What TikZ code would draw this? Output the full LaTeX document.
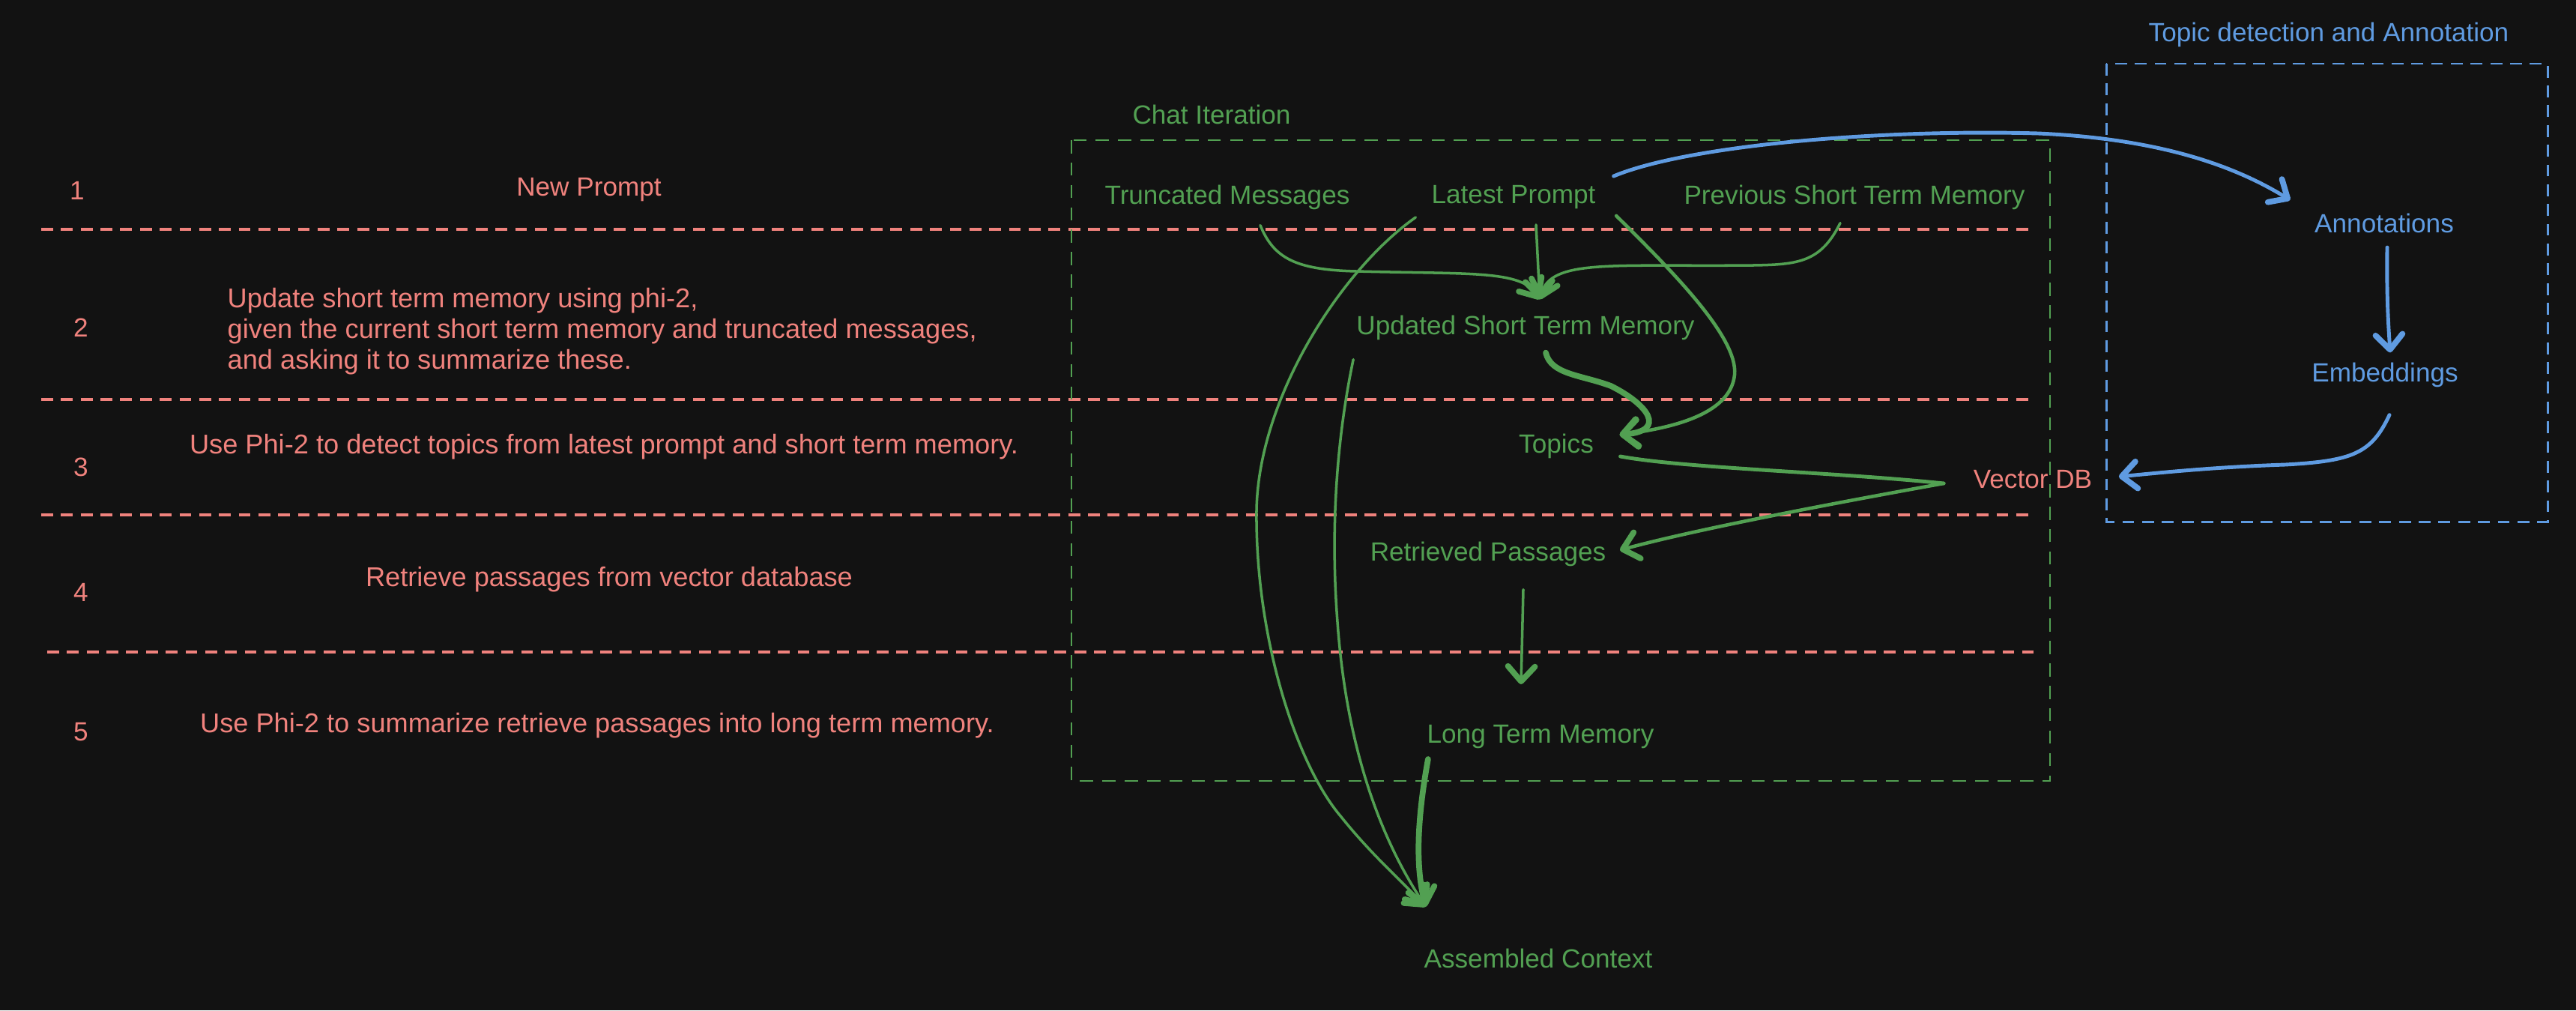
\documentclass[tikz,border=0pt]{standalone}
\usepackage{fontspec}
\setmainfont{Liberation Sans}
\usetikzlibrary{arrows.meta}
\definecolor{bgdark}{RGB}{18,18,18}
\definecolor{flowgreen}{RGB}{82,160,82}
\definecolor{steppink}{RGB}{240,130,125}
\definecolor{annblue}{RGB}{95,155,225}

\begin{document}
\begin{tikzpicture}[
    lbl/.style={inner sep=2pt, font=\fontsize{10}{11.7}\selectfont},
    steplbl/.style={lbl, text=steppink},
    steptext/.style={steplbl, font=\fontsize{10.3}{11.7}\selectfont},
    flowlbl/.style={lbl, text=flowgreen},
    annlbl/.style={lbl, text=annblue},
    sepline/.style={steppink, line width=1.1pt, dash pattern=on 4.5pt off 3pt},
    barb/.style={-{Straight Barb[length=2mm, width=3.6mm, round, line width=2.2pt]}},
    flow/.style={flowgreen, line width=1pt, line cap=round, barb},
    ann/.style={annblue, line width=1.4pt, line cap=round, barb}
  ]
    % Achtergrond
    \path[use as bounding box, fill=bgdark] (0,0) rectangle (34.38,-13.48);

    % Stappen links
    \node[steplbl] (n1) at (1.03,-2.54) {1};
    \node[steplbl] (n2) at (1.08,-4.37) {2};
    \node[steplbl] (n3) at (1.08,-6.23) {3};
    \node[steplbl] (n4) at (1.08,-7.90) {4};
    \node[steplbl] (n5) at (1.08,-9.77) {5};
    \node[steplbl] (s1) at (7.86,-2.53) {New Prompt};
    \node[steptext, anchor=west, align=left] (s2) at (2.96,-4.42)
        {Update short term memory using phi-2,\\given the current short term memory and truncated messages,\\and asking it to summarize these.};
    \node[steptext] (s3) at (8.06,-5.96) {Use Phi-2 to detect topics from latest prompt and short term memory.};
    \node[steptext] (s4) at (8.13,-7.73) {Retrieve passages from vector database};
    \node[steptext] (s5) at (7.97,-9.68) {Use Phi-2 to summarize retrieve passages into long term memory.};

    % Scheidingslijnen
    \draw[sepline] (0.55,-3.06) -- (27.14,-3.06);
    \draw[sepline] (0.55,-5.33) -- (27.14,-5.33);
    \draw[sepline] (0.55,-6.87) -- (27.14,-6.87);
    \draw[sepline] (0.63,-8.70) -- (27.14,-8.70);

    % Kaders
    \draw[flowgreen, line width=0.7pt, dash pattern=on 5pt off 3.5pt] (14.30,-1.87) rectangle (27.36,-10.42);
    \node[flowlbl] (chat) at (16.17,-1.53) {Chat Iteration};
    \draw[annblue, line width=0.85pt, dash pattern=on 4.5pt off 3pt] (28.11,-0.85) rectangle (34.00,-6.96);
    \node[annlbl] (topdet) at (31.08,-0.46) {Topic detection and Annotation};

    % Chat iteratie
    \node[flowlbl] (trunc) at (16.38,-2.63) {Truncated Messages};
    \node[flowlbl] (latest) at (20.20,-2.63) {Latest Prompt};
    \node[flowlbl] (prevstm) at (24.75,-2.63) {Previous Short Term Memory};
    \node[flowlbl] (updstm) at (20.36,-4.37) {Updated Short Term Memory};
    \node[flowlbl] (topics) at (20.77,-5.95) {Topics};
    \node[steplbl] (vecdb) at (27.13,-6.40) {Vector DB};
    \node[flowlbl] (retr) at (19.86,-7.39) {Retrieved Passages};
    \node[flowlbl] (ltm) at (20.56,-9.83) {Long Term Memory};
    \node[flowlbl] (asm) at (20.53,-12.79) {Assembled Context};

    % Annotatie
    \node[annlbl] (annot) at (31.82,-2.98) {Annotations};
    \node[annlbl] (embed) at (31.83,-5.00) {Embeddings};

    % Naar het bijgewerkte kortetermijngeheugen
    \draw[flow] ([shift={(0.44,-0.135)}]trunc.south) .. controls (17.0,-3.45) and (17.3,-3.6) .. (18.1,-3.62)
        .. controls (19.6,-3.66) and (20.3,-3.6) .. ([shift={(0.19,0.135)}]updstm.north);
    \draw[flow] ([shift={(0.30,-0.135)}]latest.south) -- ([shift={(0.19,0.135)}]updstm.north);
    \draw[flow] ([shift={(-0.19,-0.105)}]prevstm.south) .. controls (24.3,-3.5) and (24.0,-3.53) .. (23.4,-3.54)
        .. controls (21.5,-3.56) and (20.7,-3.45) .. ([shift={(0.19,0.135)}]updstm.north);

    % Naar de context
    \draw[flow] ([shift={(-0.135,-0.035)}]latest.south west) .. controls (17.9,-3.6) and (16.8,-5.3) .. (16.77,-6.8)
        .. controls (16.75,-8.5) and (17.3,-10.2) .. (17.9,-10.9)
        .. controls (18.3,-11.4) and (18.7,-11.75) .. ([shift={(0.10,0.485)}]asm.north west);
    \draw[flow] ([shift={(0.035,-0.185)}]updstm.south west) .. controls (17.85,-5.8) and (17.75,-7.0) .. (17.85,-8.3)
        .. controls (17.95,-9.7) and (18.3,-11.0) .. ([shift={(0.10,0.485)}]asm.north west);
    \draw[flow, line width=2.2pt] ([shift={(0.09,-0.065)}]ltm.south west) .. controls (18.9,-11.0) and (18.9,-11.6)
        .. ([shift={(0.10,0.485)}]asm.north west);

    % Onderwerpen
    \draw[flow, line width=1.3pt] ([shift={(0.2,-0.015)}]latest.south east) .. controls (22.3,-3.6) and (23.2,-4.5) .. (23.15,-5.0)
        .. controls (23.1,-5.5) and (22.4,-5.7) .. ([shift={(0.27,0.15)}]topics.east);
    \draw[flow, line width=2.2pt] ([shift={(0.27,-0.095)}]updstm.south) .. controls (20.7,-5.0) and (21.1,-5.0) .. (21.5,-5.15)
        .. controls (22.0,-5.4) and (22.25,-5.75) .. ([shift={(0.27,0.15)}]topics.east);

    % Vector DB
    \draw[flowgreen, line width=1.4pt, line cap=round] ([shift={(0.28,-0.14)}]topics.east) .. controls (22.5,-6.25) and (24.5,-6.3)
        .. ([shift={(-0.32,-0.05)}]vecdb.west);
    \draw[flow, line width=1.3pt] ([shift={(-0.32,-0.05)}]vecdb.west) .. controls (24.0,-6.8) and (22.5,-7.1)
        .. ([shift={(0.11,0.05)}]retr.east);
    \draw[flow] ([shift={(0.47,-0.235)}]retr.south) -- ([shift={(-0.26,0.465)}]ltm.north);

    % Blauwe pijlen
    \draw[ann] ([shift={(0.165,0.28)}]latest.east) .. controls (22.5,-1.95) and (25.0,-1.72) .. (27.2,-1.78)
        .. controls (28.8,-1.85) and (29.8,-2.2) .. ([shift={(-0.25,0.105)}]annot.north west);
    \draw[ann] ([shift={(0.04,-0.115)}]annot.south) .. controls (31.85,-4.0) and (31.88,-4.4) .. ([shift={(0.07,0.055)}]embed.north);
    \draw[ann] ([shift={(0.06,-0.295)}]embed.south) .. controls (31.65,-6.05) and (31.4,-6.15) .. (30.5,-6.2)
        .. controls (29.6,-6.23) and (28.9,-6.3) .. ([shift={(0.28,0.04)}]vecdb.east);
\end{tikzpicture}
\end{document}
